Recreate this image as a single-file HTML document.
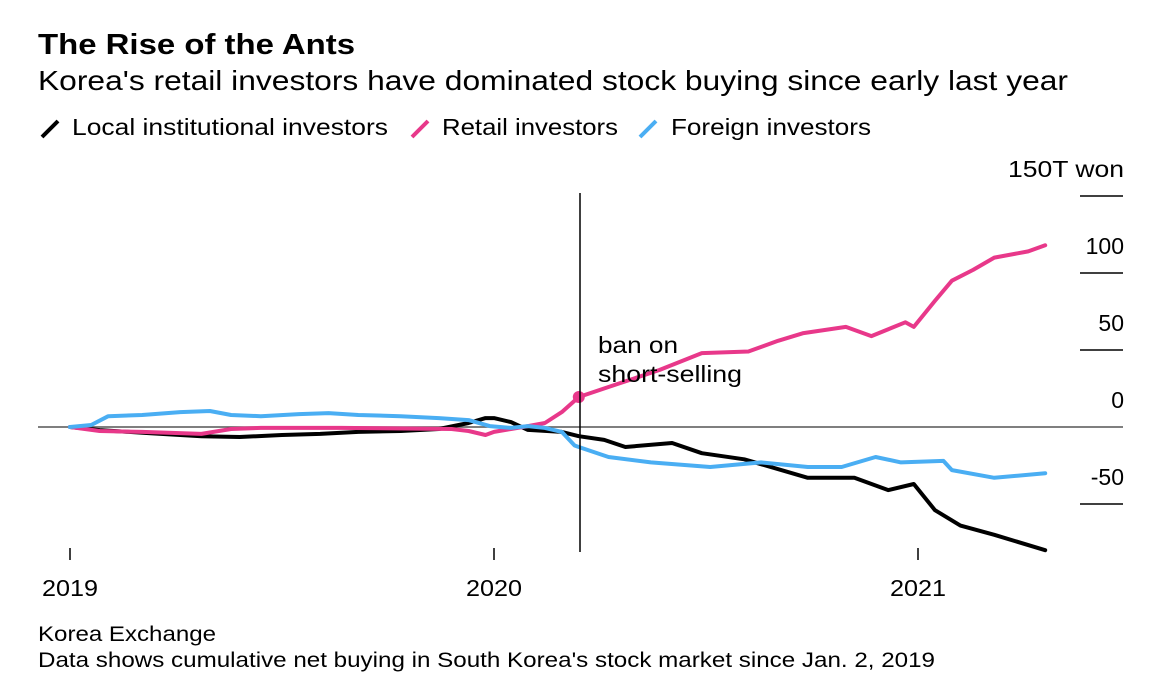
<!DOCTYPE html>
<html><head><meta charset="utf-8"><style>
body{margin:0;background:#fff;font-family:"Liberation Sans",sans-serif;}
svg{display:block}
text{font-family:"Liberation Sans",sans-serif;fill:#000}
</style></head><body>
<svg width="1158" height="688">
<text x="38" y="54" font-size="29" font-weight="bold" textLength="317" lengthAdjust="spacingAndGlyphs">The Rise of the Ants</text>
<text x="38" y="90" font-size="28" textLength="1030" lengthAdjust="spacingAndGlyphs">Korea's retail investors have dominated stock buying since early last year</text>
<g>
<line x1="42" y1="137" x2="58" y2="121" stroke="#000" stroke-width="4"/>
<text x="72" y="135" font-size="23" textLength="316" lengthAdjust="spacingAndGlyphs">Local institutional investors</text>
<line x1="412" y1="137" x2="428" y2="121" stroke="#e8388a" stroke-width="4"/>
<text x="442" y="135" font-size="23" textLength="176" lengthAdjust="spacingAndGlyphs">Retail investors</text>
<line x1="640" y1="137" x2="656" y2="121" stroke="#4aaef3" stroke-width="4"/>
<text x="671" y="135" font-size="23" textLength="200" lengthAdjust="spacingAndGlyphs">Foreign investors</text>
</g>
<g id="axes"></g>
<g id="series"></g>
<line x1="580" y1="193" x2="580" y2="552" stroke="#000" stroke-width="1.5"/>
<text x="598" y="353" font-size="23" textLength="80" lengthAdjust="spacingAndGlyphs">ban on</text>
<text x="598" y="382" font-size="23" textLength="144" lengthAdjust="spacingAndGlyphs">short-selling</text>
<text x="38" y="641" font-size="21" textLength="178" lengthAdjust="spacingAndGlyphs">Korea Exchange</text>
<text x="38" y="667" font-size="21" textLength="897" lengthAdjust="spacingAndGlyphs">Data shows cumulative net buying in South Korea's stock market since Jan. 2, 2019</text>
</svg>
<script>
const yTicks=[150,100,50,0,-50];
const yTickLabels=["150T won","100","50","0","-50"];
const xTicks=[2019,2020,2021];
const retailT=[2019.00,2019.07,2019.17,2019.31,2019.38,2019.45,2019.64,2019.90,2019.94,2019.98,2020.00,2020.04,2020.08,2020.12,2020.16,2020.20,2020.27,2020.39,2020.49,2020.60,2020.67,2020.73,2020.83,2020.89,2020.97,2020.99,2021.04,2021.08,2021.13,2021.18,2021.26,2021.30];
const retailV=[0,-2.6,-3.2,-4.5,-1.3,-0.6,-0.6,-1.3,-2.6,-5.2,-3.2,-1.3,0.6,2.6,9.7,19.5,26,37,48,49,56,61,65,59,68,65,82,95,102,110,114,118];
const instT=[2019.00,2019.07,2019.19,2019.31,2019.40,2019.50,2019.59,2019.68,2019.78,2019.87,2019.94,2019.98,2020.00,2020.04,2020.08,2020.16,2020.20,2020.26,2020.31,2020.42,2020.49,2020.59,2020.74,2020.85,2020.93,2020.99,2021.04,2021.10,2021.18,2021.30];
const instV=[0,-2,-4,-6,-6.5,-5.2,-4.5,-3.2,-2.6,-1.3,2.6,5.8,5.8,3.2,-1.9,-3.2,-6,-8.4,-13,-10.4,-17,-21,-33,-33,-41,-37,-54,-64,-70,-80];
const forT=[2019.00,2019.05,2019.09,2019.17,2019.26,2019.33,2019.38,2019.45,2019.54,2019.61,2019.68,2019.78,2019.87,2019.94,2019.99,2020.04,2020.08,2020.12,2020.16,2020.19,2020.20,2020.27,2020.37,2020.51,2020.63,2020.74,2020.82,2020.90,2020.96,2021.06,2021.08,2021.18,2021.30];
const forV=[0,1.3,7,7.8,9.7,10.4,7.8,7,8.4,9,7.8,7,5.8,4.5,0.6,-0.6,0.6,-0.6,-3.2,-12,-13,-19.5,-23,-26,-23,-26,-26,-19.5,-23,-22,-28,-33,-30];
const banDate=2020.20;
const NS="http://www.w3.org/2000/svg";
const xs=t=>70+(t-2019)*424;
const ys=v=>427-v*77/50;
function mk(tag,attrs,parent){const e=document.createElementNS(NS,tag);for(const k in attrs)e.setAttribute(k,attrs[k]);parent.appendChild(e);return e;}
const ax=document.getElementById('axes');
yTicks.forEach((v,i)=>{
  const y=ys(v);
  const l=mk('line',{x1:v===0?38:1080,x2:1123,y1:y,y2:y,stroke:v===0?'#555':'#000','stroke-width':1.5},ax);
  
  
  const t=mk('text',{x:1124,y:y-19,'font-size':23,'text-anchor':'end'},ax);
  t.textContent=yTickLabels[i];
  if(i===0){t.setAttribute('textLength','116');t.setAttribute('lengthAdjust','spacingAndGlyphs');}
  
  
});
xTicks.forEach(yr=>{
  const x=xs(yr);
  const l=mk('line',{x1:x,x2:x,y1:548,y2:560,stroke:'#000','stroke-width':1.5},ax);
  
  
  const t=mk('text',{x:x,y:596,'font-size':23,'text-anchor':'middle',textLength:56,lengthAdjust:'spacingAndGlyphs'},ax);
  t.textContent=String(yr);
  
  
});
const sg=document.getElementById('series');
function line(T,V,color,name){
  const d=T.map((t,i)=>(i?'L':'M')+xs(t).toFixed(1)+','+ys(V[i]).toFixed(1)).join('');
  const p=mk('path',{d:d,fill:'none',stroke:color,'stroke-width':4,'stroke-linejoin':'round','stroke-linecap':'round'},sg);
  
  
}
line(instT,instV,'#000','line-institutional');
line(retailT,retailV,'#e8388a','line-retail');
line(forT,forV,'#4aaef3','line-foreign');
let bi=retailT.findIndex(t=>t>=banDate);
const c=mk('circle',{cx:xs(retailT[bi]),cy:ys(retailV[bi]),r:6,fill:'#e8388a'},sg);


</script>
</body></html>
